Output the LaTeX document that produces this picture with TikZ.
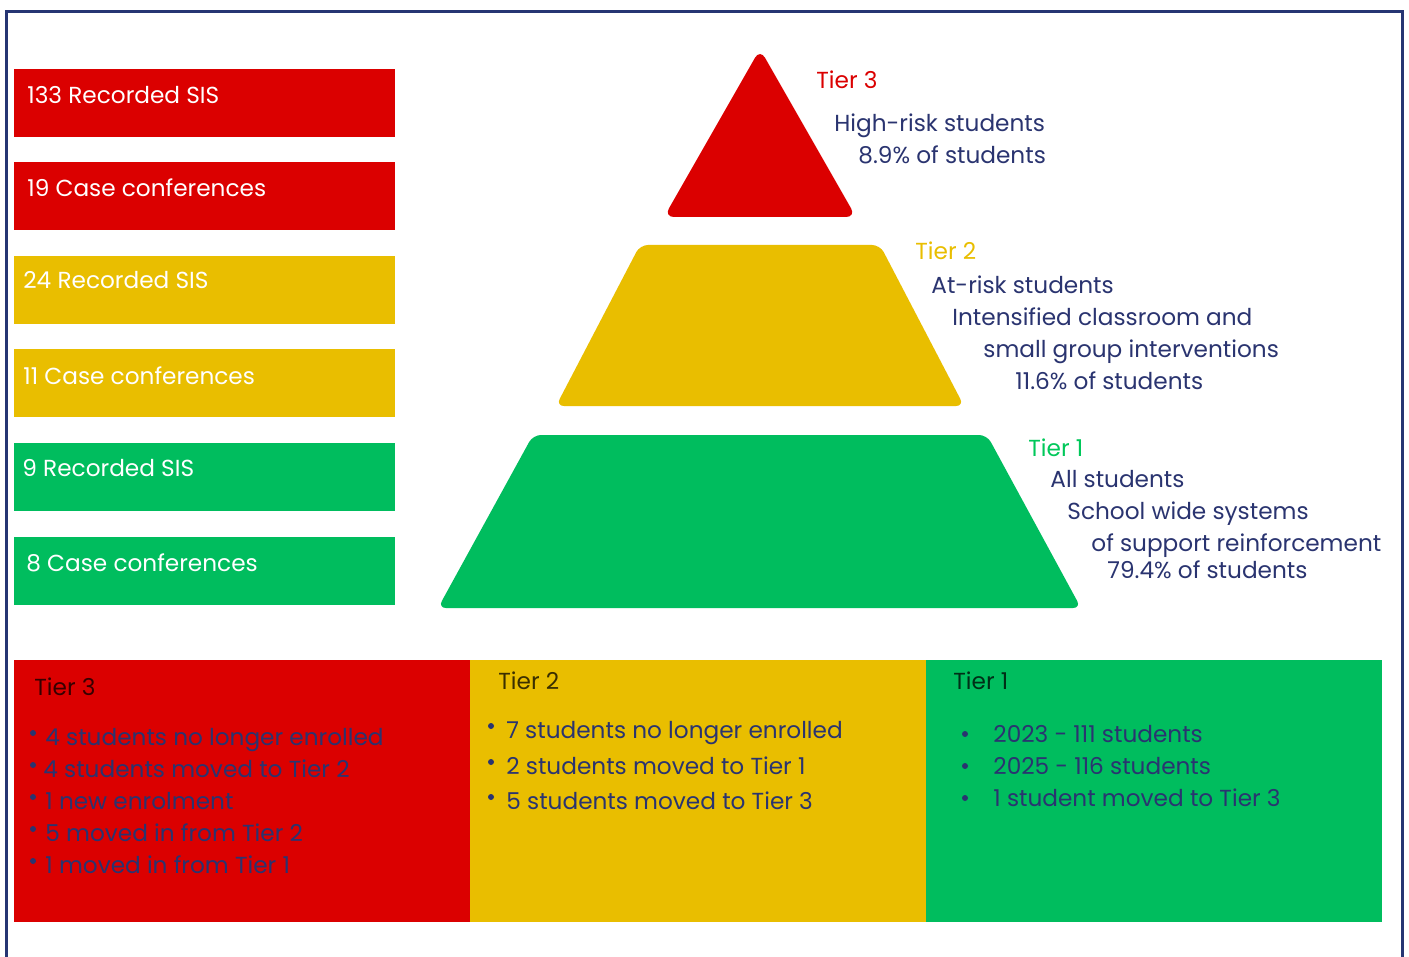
\documentclass[tikz,border=0pt]{standalone}
\usepackage{fontspec}
\setmainfont{Poppins}
\definecolor{tred}{RGB}{219,0,0}
\definecolor{tyel}{RGB}{233,190,0}
\definecolor{tgrn}{RGB}{0,189,94}
\definecolor{navy}{RGB}{42,52,112}
\definecolor{frame}{RGB}{38,53,115}
\definecolor{tiergrn}{RGB}{0,200,90}
\begin{document}
\begin{tikzpicture}[x=0.5pt,y=-0.5pt,
  txt/.style={inner sep=0pt,anchor=west,text height=8.1pt,text depth=0pt,font=\fontsize{11.6}{14}\selectfont},
  wtxt/.style={txt,text=white},
  ntxt/.style={txt,text=navy},
  htxt/.style={txt,text=black,opacity=0.75},
  dot/.style={circle,inner sep=0pt,minimum size=3pt,fill=navy}]
\useasboundingbox (0,0) rectangle (1409,957);
\fill[white] (0,0) rectangle (1409,957);
% frame
\draw[frame,line width=1.5pt] (6.5,957) -- (6.5,11.5) -- (1402.5,11.5) -- (1402.5,957);
% left boxes
\fill[tred] (14,69) rectangle (395,137);
\fill[tred] (14,162) rectangle (395,230);
\fill[tyel] (14,256) rectangle (395,324);
\fill[tyel] (14,349) rectangle (395,417);
\fill[tgrn] (14,443) rectangle (395,511);
\fill[tgrn] (14,537) rectangle (395,605);
\node[wtxt] (b1) at (27,95) {133 Recorded SIS};
\node[wtxt] (b2) at (27,188) {19 Case conferences};
\node[wtxt] (b3) at (23,280) {24 Recorded SIS};
\node[wtxt] (b4) at (23,376) {11 Case conferences};
\node[wtxt] (b5) at (22,468) {9 Recorded SIS};
\node[wtxt] (b6) at (26,563) {8 Case conferences};
% pyramid
\fill[tred,rounded corners=5pt] (760,49) -- (856,217) -- (664,217) -- cycle;
\fill[tyel,rounded corners=4pt] (640,245) -- (880,245) -- (964,406) -- (556,406) -- cycle;
\fill[tgrn,rounded corners=4pt] (533,435) -- (987,435) -- (1081,608) -- (438,608) -- cycle;
% pyramid labels
\node[txt,text=tred] (t3) at (816,80) {Tier 3};
\node[ntxt] (t3a) at (834,123) {High-risk students};
\node[ntxt] (t3b) at (858,155) {8.9\% of students};
\node[txt,text=tyel] (t2) at (915,251) {Tier 2};
\node[ntxt] (t2a) at (931,285) {At-risk students};
\node[ntxt] (t2b) at (952,317) {Intensified classroom and};
\node[ntxt] (t2c) at (983,349) {small group interventions};
\node[ntxt] (t2d) at (1015,381) {11.6\% of students};
\node[txt,text=tiergrn] (t1) at (1028,448) {Tier 1};
\node[ntxt] (t1a) at (1050,479) {All students};
\node[ntxt] (t1b) at (1067,511) {School wide systems};
\node[ntxt] (t1c) at (1091,543) {of support reinforcement};
\node[ntxt] (t1d) at (1107,570) {79.4\% of students};
% bottom boxes
\fill[tred] (14,660) rectangle (470,922);
\fill[tyel] (470,660) rectangle (926,922);
\fill[tgrn] (926,660) rectangle (1382,922);
\node[htxt] (h3) at (34,687) {Tier 3};
\node[htxt] (h2) at (498,681) {Tier 2};
\node[htxt] (h1) at (953,681) {Tier 1};
% tier 3 bullets
\foreach \y/\t/\x [count=\i] in {737/4 students no longer enrolled/45, 769/4 students moved to Tier 2/43, 801/1 new enrolment/45, 833/5 moved in from Tier 2/45, 865/1 moved in from Tier 1/45}{
  \node[dot] (d3\i) at (33,\y-4) {};
  \node[ntxt] (l3\i) at (\x,\y) {\t};
}
% tier 2 bullets
\foreach \y/\t [count=\i] in {730/7 students no longer enrolled, 766/2 students moved to Tier 1, 801/5 students moved to Tier 3}{
  \node[dot] (d2\i) at (491,\y-4) {};
  \node[ntxt] (l2\i) at (506,\y) {\t};
}
% tier 1 bullets
\foreach \y/\t [count=\i] in {734/2023 - 111 students, 766/2025 - 116 students, 798/1 student moved to Tier 3}{
  \node[dot] (d1\i) at (965,\y) {};
  \node[ntxt] (l1\i) at (993,\y) {\t};
}
\end{tikzpicture}
\end{document}
